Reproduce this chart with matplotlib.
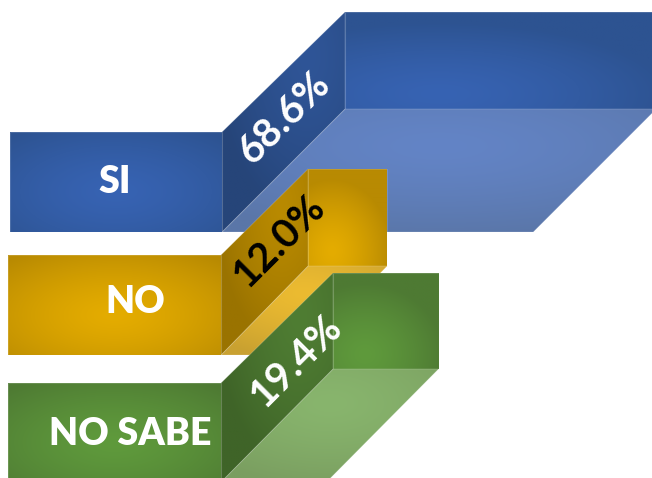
import numpy as np
import matplotlib
matplotlib.use('Agg')
import matplotlib.pyplot as plt
from matplotlib.colors import to_rgb
from matplotlib.patches import Polygon

plt.rcParams['font.family'] = ['Lato', 'DejaVu Sans']

# data
categories = ['SI', 'NO', 'NO SABE']
values = [68.6, 12.0, 19.4]
value_labels = ['68.6%', '12.0%', '19.4%']

# layout, in pixels of the 652x478 picture
front_left = [10, 8, 8]
front_right = [222, 221, 221]
front_top = [132, 255, 383]
front_h = [100, 100, 99]
depth = [123, 87, 112]
rise = [120, 86, 110]
length_nudge = [0, 0, -4]  # third bar is a bit shorter than the scale gives
cat_xy = [(115, 182), (135, 302), (130, 434)]
val_xy = [(284, 118), (279, 241), (296, 361)]
val_color = ['white', 'black', 'white']

# center colour, edge colour
front_col = [('#3763b3', '#2d5391'), ('#e4ac00', '#b88a02'), ('#5f9a3c', '#4e7a33')]
side_col = [('#2f5597', '#264579'), ('#b98a00', '#9a7300'), ('#4f7d33', '#3f6428')]
floor_col = [('#6384c6', '#5a76a8'), ('#ecbb30', '#c9a131'), ('#88b56d', '#7a9e60')]

z = 1


def length_px(v):
    # bar length grows with the value
    return 30 + 4.1 * v


def face(ax, pts, colors, center=(0.5, 0.5)):
    global z
    pts = np.array(pts, dtype=float)
    x0, y0 = pts.min(axis=0)
    x1, y1 = pts.max(axis=0)
    xx, yy = np.meshgrid(np.linspace(0, 1, 80), np.linspace(0, 1, 80))
    r = np.hypot(xx - center[0], yy - center[1]) / 0.75
    r = np.clip(r, 0, 1)[..., None] ** 1.4  # flatter in the middle
    c0 = np.array(to_rgb(colors[0]))
    c1 = np.array(to_rgb(colors[1]))
    img = c0 * (1 - r) + c1 * r
    im = ax.imshow(img, extent=(x0, x1, y1, y0), aspect='auto', interpolation='bilinear',
                   zorder=z)
    poly = Polygon(pts, closed=True, transform=ax.transData, fill=False,
                   edgecolor='white', alpha=0.15, lw=0.8, zorder=z + 1)
    ax.add_patch(poly)
    im.set_clip_path(poly)
    z += 2


fig = plt.figure(figsize=(6.52, 4.78), dpi=100)
ax = fig.add_axes([0, 0, 1, 1])

for i in range(len(categories)):
    xl, xr = front_left[i], front_right[i]
    yt, h = front_top[i], front_h[i]
    dx, dy = depth[i], rise[i]
    w = length_px(values[i]) + length_nudge[i]

    # back wall, floor, side, front, same order as they overlap
    face(ax, [(xr + dx, yt - dy), (xr + dx + w, yt - dy),
              (xr + dx + w, yt - dy + h - 3), (xr + dx, yt - dy + h - 3)],
         front_col[i], center=(0.3, 0.85))
    face(ax, [(xr, yt + h), (xr + dx, yt - dy + h - 3),
              (xr + dx + w, yt - dy + h - 3), (xr + w, yt + h)],
         floor_col[i], center=(0.5, 0.3))
    face(ax, [(xr, yt), (xr + dx, yt - dy),
              (xr + dx, yt - dy + h - 3), (xr, yt + h)],
         side_col[i], center=(0.7, 0.2))
    face(ax, [(xl, yt), (xr, yt), (xr, yt + h), (xl, yt + h)],
         front_col[i], center=(0.5, 0.6))

for i in range(len(categories)):
    ax.text(cat_xy[i][0], cat_xy[i][1], categories[i], color='white', fontsize=27,
            fontweight='heavy', ha='center', va='center', zorder=z)
    ax.text(val_xy[i][0], val_xy[i][1], value_labels[i], color=val_color[i], fontsize=29,
            fontweight='bold', ha='center', va='center', rotation=45,
            rotation_mode='anchor', zorder=z)

ax.set_xlim(0, 652)
ax.set_ylim(478, 0)
ax.axis('off')
fig.savefig('out.png', dpi=100)
